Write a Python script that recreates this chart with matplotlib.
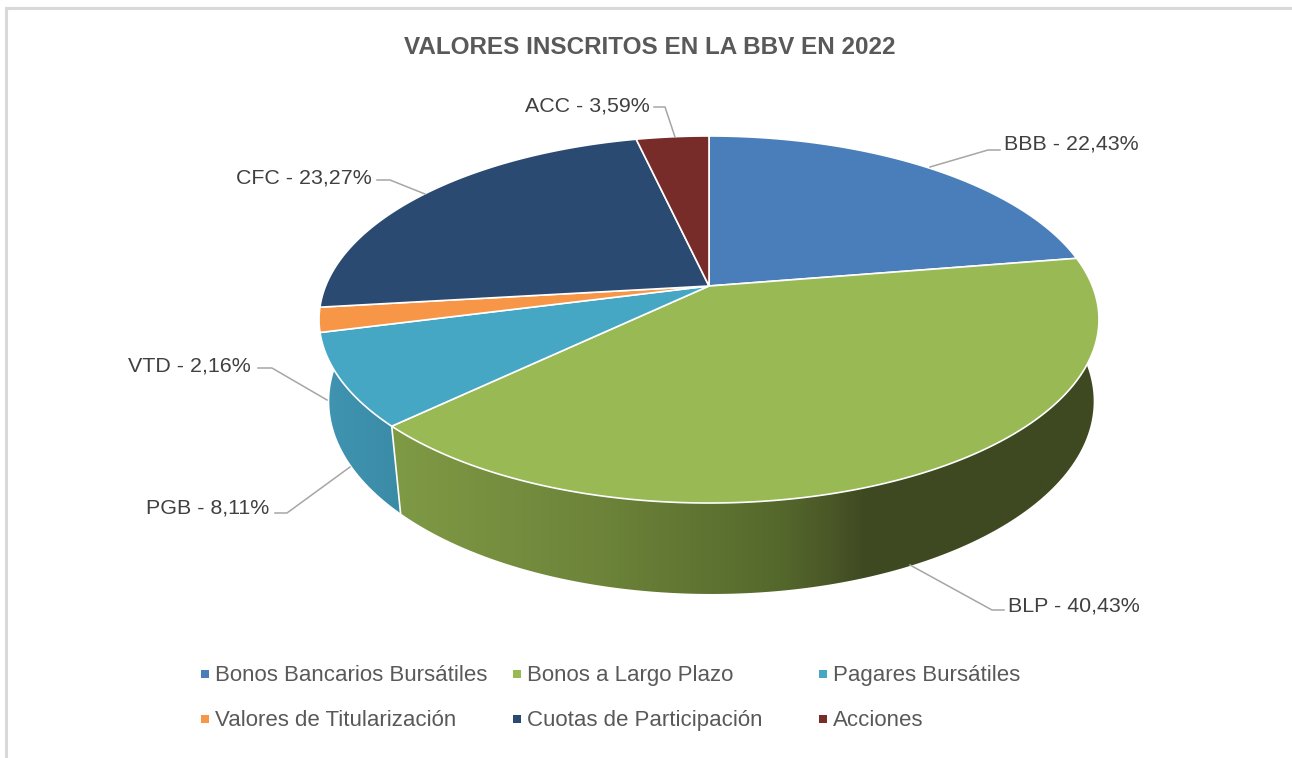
import numpy as np
import matplotlib
matplotlib.use("Agg")
import matplotlib.pyplot as plt
from matplotlib.colors import LinearSegmentedColormap
from matplotlib.patches import Polygon

plt.rcParams['font.family'] = ['Liberation Sans', 'DejaVu Sans']

# Data
title = "VALORES INSCRITOS EN LA BBV EN 2022"
codes = ["BBB", "BLP", "PGB", "VTD", "CFC", "ACC"]
names = ["Bonos Bancarios Bursátiles", "Bonos a Largo Plazo", "Pagares Bursátiles",
         "Valores de Titularización", "Cuotas de Participación", "Acciones"]
shares = [22.43, 40.43, 8.11, 2.16, 23.27, 3.59]
value_labels = ["22,43%", "40,43%", "8,11%", "2,16%", "23,27%", "3,59%"]
colors = ["#4a7ebb", "#98b954", "#46a7c5", "#f79646", "#2b4a72", "#772c2a"]

# Label anchor (x, y, ha) and leader line for each slice, in pixels
label_pos = [(1004, 150, "left"), (1008, 611, "left"), (269, 513, "right"),
             (251, 371, "right"), (372, 183, "right"), (650, 112, "right")]
leaders = [[(1000, 150), (988, 150), (930, 167)],
           [(1004, 610), (992, 610), (910, 565)],
           [(275, 513), (287, 513), (350, 467)],
           [(258, 368), (272, 368), (327, 400)],
           [(377, 180), (390, 180), (425, 194)],
           [(654, 107), (665, 107), (675, 137)]]

# Legend cells
legend_x = [205, 517, 823, 205, 517, 823]
legend_y = [674, 674, 674, 719, 719, 719]

# Perspective of the pie
cx, cy = 709, 286
rx, ry, persp = 383.4, 177.4, 0.1826


def top_xy(deg):
    t = np.radians(deg)
    d = 1 + persp * np.cos(t)
    return cx + rx * np.sin(t) / d, cy - ry * np.cos(t) / d


def bottom_xy(deg):
    x, y = top_xy(deg)
    return cx + 2.5 + 0.98 * (x - cx), 1.05 * y + 65.8


def side_poly(a, b):
    th = np.linspace(a, b, 150)
    x1, y1 = top_xy(th)
    x2, y2 = bottom_xy(th[::-1])
    return np.column_stack([np.r_[x1, x2], np.r_[y1, y2]])


fig = plt.figure(figsize=(12.92, 7.58), dpi=100)
ax = fig.add_axes([0, 0, 1, 1])

edges = np.r_[0, np.cumsum(shares)] / sum(shares) * 360

# Frame of the pasted chart
ax.plot([1292, 6, 6], [8, 8, 758], color="#d9d9d9", lw=2.2, solid_joinstyle="miter")

# Sides, with their shading left to right
green_side = LinearSegmentedColormap.from_list(
    "g", [(0, "#7f9a45"), (0.3, "#6c8339"), (0.55, "#55682c"), (0.62, "#4a5727"),
          (0.67, "#3e4921"), (1, "#3e4921")])
teal_side = LinearSegmentedColormap.from_list("t", ["#4195b2", "#3a8ba6"])
for a, b, cmap in [(edges[2], 270, teal_side), (60, edges[2], green_side)]:
    pts = side_poly(a, b)
    x0, x1 = pts[:, 0].min(), pts[:, 0].max()
    y0, y1 = pts[:, 1].min(), pts[:, 1].max()
    im = ax.imshow(np.linspace(0, 1, 256)[None, :], cmap=cmap, extent=[x0, x1, y1, y0],
                   aspect="auto", zorder=2)
    clip = Polygon(pts, transform=ax.transData, fc="none", ec="none")
    ax.add_patch(clip)
    im.set_clip_path(clip)

x_a, y_a = top_xy(edges[2])
x_b, y_b = bottom_xy(edges[2])
ax.plot([x_a, x_b], [y_a, y_b], color="white", lw=1.2, zorder=3)

# Top of the pie
for i in range(len(shares)):
    th = np.linspace(edges[i], edges[i + 1], 200)
    x, y = top_xy(th)
    ax.fill(np.r_[cx, x], np.r_[cy, y], facecolor=colors[i], edgecolor="white",
            lw=1.2, joinstyle="round", zorder=4)

# Data labels and leader lines
for i in range(len(codes)):
    px, py, ha = label_pos[i]
    ax.text(px, py, f"{codes[i]} - {value_labels[i]}", ha=ha, va="baseline",
            fontsize=15.4, color="#404040", zorder=6)
    line = np.array(leaders[i])
    ax.plot(line[:, 0], line[:, 1], color="#a6a6a6", lw=1.1, zorder=5)

ax.text(650, 54, title, ha="center", va="baseline", fontsize=17.5, fontweight="bold", color="#595959")

# Legend
for i in range(len(names)):
    ax.scatter(legend_x[i], legend_y[i], marker="s", s=40, color=colors[i], linewidths=0)
    ax.text(legend_x[i] + 10, legend_y[i] + 7, names[i], ha="left", va="baseline",
            fontsize=16, color="#595959")

ax.set_xlim(0, 1292)
ax.set_ylim(758, 0)
ax.axis("off")

fig.savefig("out.png", dpi=100, facecolor="white")
